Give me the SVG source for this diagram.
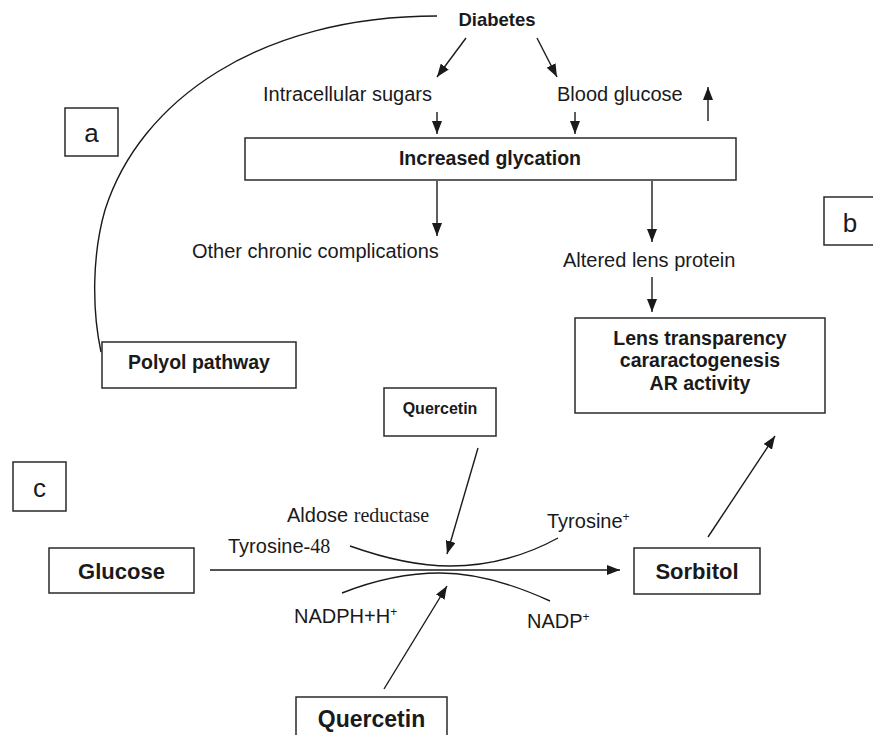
<svg xmlns="http://www.w3.org/2000/svg" width="873" height="735" viewBox="0 0 873 735">
<defs>
<marker id="ah" viewBox="0 0 13 10" refX="13" refY="5" markerWidth="13" markerHeight="10" markerUnits="userSpaceOnUse" orient="auto">
<path d="M0,0 L13,5 L0,10 z" fill="#1a1a1a"/>
</marker>
<style>
.t{font-family:"Liberation Sans",Arial,Helvetica,sans-serif;font-size:20px;fill:#1a1a1a}
.s{font-family:"Liberation Serif","Times New Roman",serif}
.b{font-weight:bold;font-size:19.5px}
.m{text-anchor:middle}
.box{fill:#fff;stroke:#2a2a2a;stroke-width:1.5}
.ln{fill:none;stroke:#1a1a1a;stroke-width:1.4}
.ar{fill:none;stroke:#1a1a1a;stroke-width:1.4;marker-end:url(#ah)}
.sup{font-size:12px}
</style>
</defs>
<rect width="873" height="735" fill="#fff"/>

<g id="connectors">
<path class="ln" d="M437,16 C260,16 140,100 105,210 C92,255 92,310 101,352"/>
<line class="ar" x1="466" y1="38" x2="437" y2="77"/>
<line class="ar" x1="537" y1="38" x2="557" y2="77"/>
<line class="ar" x1="437" y1="112" x2="437" y2="134"/>
<line class="ar" x1="575" y1="112" x2="575" y2="134"/>
<line class="ar" x1="708" y1="121" x2="708" y2="87"/>
<line class="ar" x1="437" y1="181" x2="437" y2="236"/>
<line class="ar" x1="652" y1="181" x2="652" y2="242"/>
<line class="ar" x1="652" y1="277" x2="652" y2="312"/>
<line class="ar" x1="592" y1="333" x2="592" y2="365"/>
<line class="ar" x1="796" y1="402" x2="796" y2="367"/>
<line class="ar" x1="210" y1="570" x2="620" y2="570"/>
<line class="ar" x1="478" y1="448" x2="447" y2="554"/>
<line class="ar" x1="384" y1="689" x2="447" y2="586"/>
<line class="ar" x1="708" y1="537" x2="775" y2="436"/>
<path class="ln" d="M350,546 C395,562 425,566 450,566 C490,566 525,556 558,538"/>
<path class="ln" d="M342,593 C375,580 410,573 440,573 C475,573 515,585 550,601"/>
</g>

<g id="diabetes"><text class="t b m" x="497" y="26" style="font-size:18.5px">Diabetes</text></g>
<g id="intracellular-sugars"><text class="t" x="263" y="101">Intracellular sugars</text></g>
<g id="blood-glucose"><text class="t" x="557" y="101">Blood glucose</text></g>
<g id="increased-glycation">
<rect class="box" x="245" y="138" width="491" height="42"/>
<text class="t b m" x="490" y="165">Increased glycation</text>
</g>
<g id="other-complications"><text class="t" x="192" y="258">Other chronic complications</text></g>
<g id="altered-lens-protein"><text class="t" x="563" y="267">Altered lens protein</text></g>
<g id="lens">
<rect class="box" x="575" y="318" width="250" height="95"/>
<text class="t b m" x="700" y="345">Lens transparency</text>
<text class="t b m" x="700" y="367">cararactogenesis</text>
<text class="t b m" x="700" y="390">AR activity</text>
</g>
<g id="label-a">
<rect class="box" x="65" y="108" width="53" height="48"/>
<text class="t m" x="91.5" y="142" style="font-size:26px">a</text>
</g>
<g id="label-b">
<rect class="box" x="824" y="197" width="52" height="48"/>
<text class="t m" x="850" y="232" style="font-size:26px">b</text>
</g>
<g id="label-c">
<rect class="box" x="13" y="462" width="53" height="49"/>
<text class="t m" x="39.5" y="497" style="font-size:26px">c</text>
</g>
<g id="polyol">
<rect class="box" x="102" y="342" width="194" height="46"/>
<text class="t b m" x="199" y="369">Polyol pathway</text>
</g>
<g id="quercetin-top">
<rect class="box" x="384" y="388" width="112" height="48"/>
<text class="t b m" x="440" y="414" style="font-size:16px">Quercetin</text>
</g>
<g id="quercetin-bottom">
<rect class="box" x="296" y="697" width="151" height="50"/>
<text class="t b m" x="371.5" y="727" style="font-size:23px">Quercetin</text>
</g>
<g id="glucose">
<rect class="box" x="49" y="548" width="145" height="45"/>
<text class="t b m" x="121.5" y="579" style="font-size:22px">Glucose</text>
</g>
<g id="sorbitol">
<rect class="box" x="634" y="548" width="126" height="46"/>
<text class="t b m" x="697" y="579" style="font-size:22px">Sorbitol</text>
</g>
<g id="aldose-reductase"><text class="t" x="287" y="522">Aldose <tspan class="s">reductase</tspan></text></g>
<g id="tyrosine-48"><text class="t" x="228" y="553">Tyrosine<tspan class="s">-48</tspan></text></g>
<g id="tyrosine-plus"><text class="t" x="547" y="528">Tyrosine<tspan class="sup" dy="-7">+</tspan></text></g>
<g id="nadph"><text class="t" x="294" y="623">NADPH+H<tspan class="sup" dy="-7">+</tspan></text></g>
<g id="nadp"><text class="t" x="527" y="628">NADP<tspan class="sup" dy="-7">+</tspan></text></g>
</svg>
